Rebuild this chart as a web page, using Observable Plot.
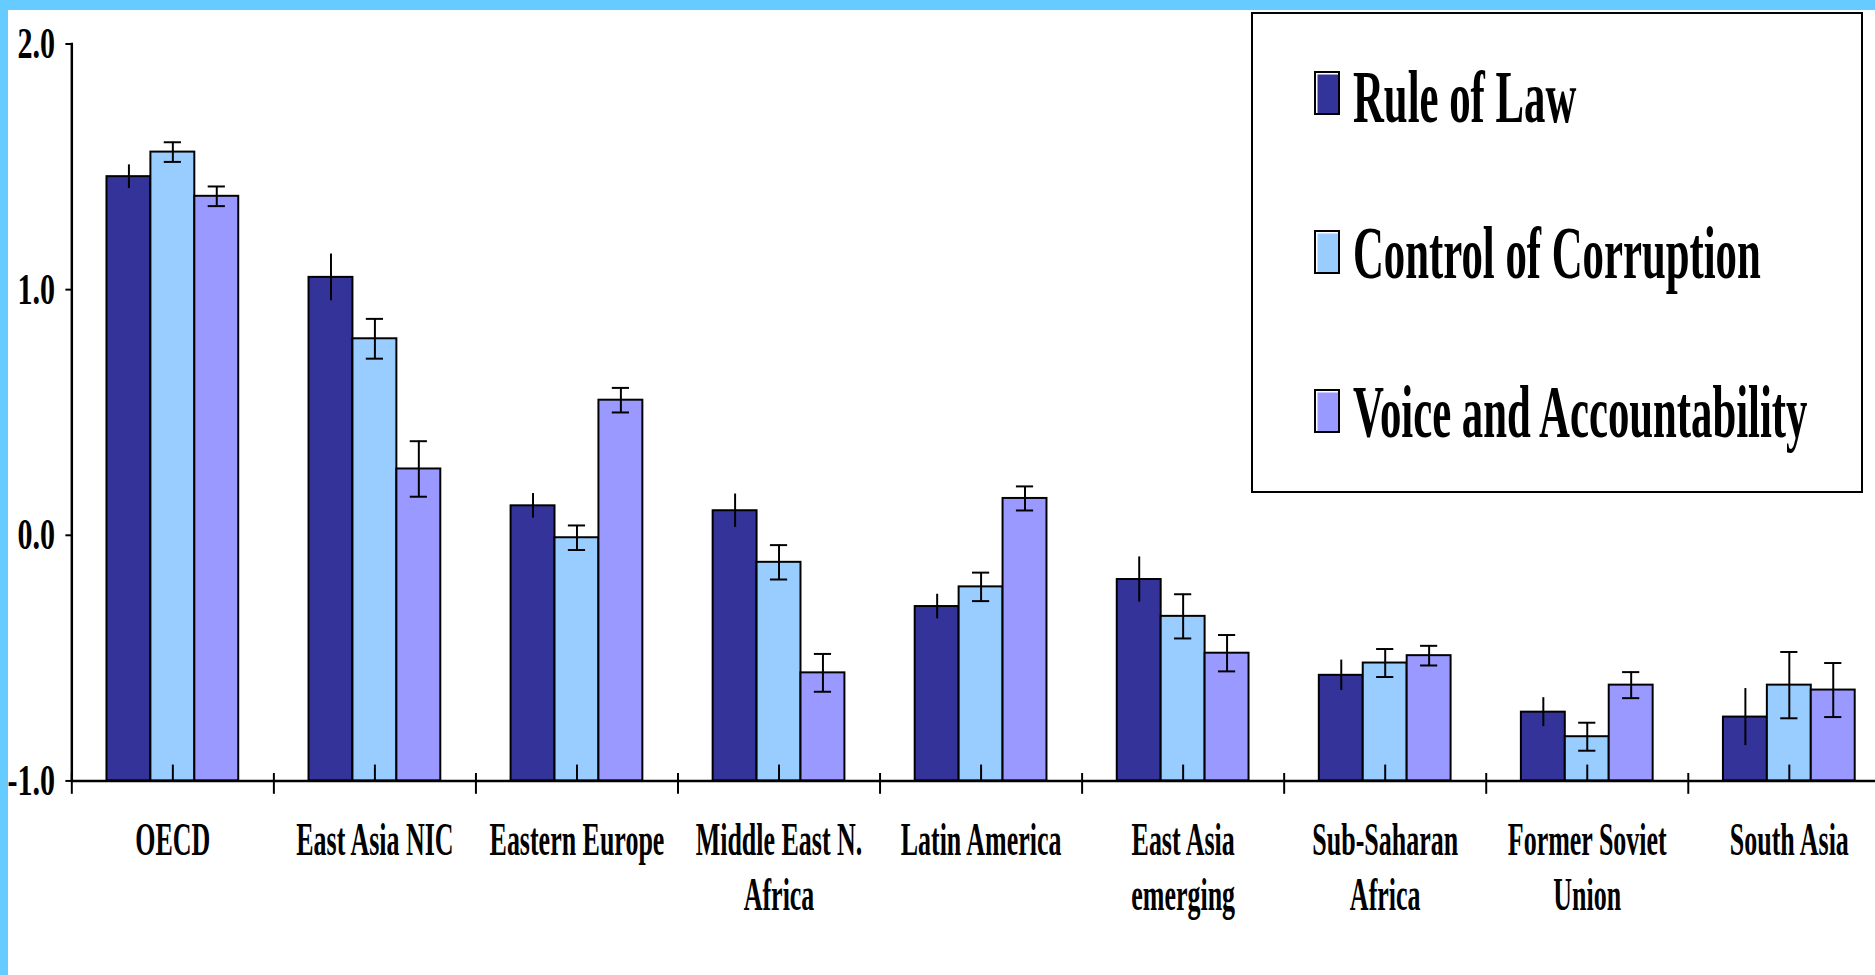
<!DOCTYPE html>
<html>
<head>
<meta charset="utf-8">
<script src="https://cdn.jsdelivr.net/npm/d3@7"></script>
<script src="https://cdn.jsdelivr.net/npm/@observablehq/plot@0.6"></script>
<style>
  html, body { margin: 0; padding: 0; background: #fff; overflow: hidden; width: 1875px; height: 975px; }
  #chart { position: absolute; left: 0; top: 0; }
  .edge-top { position: absolute; left: 0; top: 0; width: 1875px; height: 10px; background: #66ccff; z-index: 5; }
  .edge-left { position: absolute; left: 0; top: 0; width: 8px; height: 975px; background: #66ccff; z-index: 5; }
  #legend { position: absolute; left: 1251px; top: 12px; width: 608px; height: 477px; border: 2px solid #000; background: #fff; z-index: 4; }
  .sw { position: absolute; left: 61px; width: 26px; height: 44px; box-sizing: border-box; border: 2px solid #000; box-shadow: inset 1.5px 1.5px 0 #fff; }
  .lt { position: absolute; left: 100px; font-family: "Liberation Serif", "Times New Roman", serif; font-weight: bold; font-size: 75px; line-height: 1; white-space: nowrap; transform: scaleX(0.57); transform-origin: 0 0; color: #000; }
</style>
</head>
<body>
<div id="chart"></div>
<div class="edge-top"></div>
<div class="edge-left"></div>
<div id="legend"></div>
<script>
// ---- data ----
const categories = ["OECD", "East Asia NIC", "Eastern Europe", "Middle East N. Africa", "Latin America", "East Asia emerging", "Sub-Saharan Africa", "Former Soviet Union", "South Asia"];
const tickLabels = ["OECD", "East Asia NIC", "Eastern Europe", "Middle East N.\nAfrica", "Latin America", "East Asia\nemerging", "Sub-Saharan\nAfrica", "Former Soviet\nUnion", "South Asia"];
const series = ["Rule of Law", "Control of Corruption", "Voice and Accountability"];
const colors = ["#333399", "#99ccff", "#9999ff"];
const ruleOfLaw = [1.46, 1.05, 0.12, 0.10, -0.29, -0.18, -0.57, -0.72, -0.74];
const ruleOfLawErr = [0.048, 0.095, 0.05, 0.068, 0.05, 0.092, 0.062, 0.059, 0.116];
const controlOfCorruption = [1.56, 0.80, -0.01, -0.11, -0.21, -0.33, -0.52, -0.82, -0.61];
const controlOfCorruptionErr = [0.04, 0.081, 0.05, 0.07, 0.058, 0.09, 0.057, 0.057, 0.135];
const voiceAccountability = [1.38, 0.27, 0.55, -0.56, 0.15, -0.48, -0.49, -0.61, -0.63];
const voiceAccountabilityErr = [0.04, 0.113, 0.05, 0.077, 0.049, 0.074, 0.04, 0.053, 0.11];
const yTicks = [-1, 0, 1, 2];
const baseline = -1;

const values = [ruleOfLaw, controlOfCorruption, voiceAccountability];
const errors = [ruleOfLawErr, controlOfCorruptionErr, voiceAccountabilityErr];
const rows = [];
categories.forEach((c, i) => {
  series.forEach((s, j) => {
    const v = values[j][i], e = errors[j][i];
    rows.push({category: c, series: s, value: v, lo: v - e, hi: v + e});
  });
});
const capped = rows.filter(d => d.series !== series[0]);

// target frame: left 71, right 1892, top 44, bottom 781
const W = 1893, H = 975;
const target = {left: 71, right: 1892, top: 44, bottom: 781};
const serif = "'Liberation Serif', 'Times New Roman', serif";

function make(m) {
  const plotH = target.bottom - target.top;
  return Plot.plot({
    width: W, height: H,
    marginTop: m.t, marginBottom: m.b, marginLeft: m.l, marginRight: m.r,
    style: {fontFamily: serif, fontWeight: "bold", color: "#000", background: "transparent", overflow: "visible"},
    fx: {domain: categories, paddingInner: 0, paddingOuter: 0, label: null},
    x: {domain: series, paddingInner: 0, paddingOuter: 0.8, axis: null, round: false},
    y: {domain: [-1, 2], label: null},
    color: {domain: series, range: colors},
    marks: [
      Plot.barY(rows, {fx: "category", x: "series", y1: baseline, y2: "value", fill: "series", stroke: "#000", strokeWidth: 2}),
      Plot.ruleX(rows, {fx: "category", x: "series", y1: "lo", y2: "hi", stroke: "#000", strokeWidth: 2}),
      Plot.tickY(capped, {fx: "category", x: "series", y: "lo", insetLeft: 13.5, insetRight: 13.5, stroke: "#000", strokeWidth: 2}),
      Plot.tickY(capped, {fx: "category", x: "series", y: "hi", insetLeft: 13.5, insetRight: 13.5, stroke: "#000", strokeWidth: 2}),
      Plot.ruleX(categories, {fx: d => d, x: () => series[1], insetTop: plotH - 9, stroke: "#000", strokeWidth: 2}),
      Plot.ruleY([baseline], {stroke: "#000", strokeWidth: 2.5}),
      Plot.frame({anchor: "left", facetAnchor: "left", stroke: "#000", strokeWidth: 2.5, ariaLabel: "yline"}),
      Plot.frame({anchor: "left", insetTop: plotH, insetBottom: -12, stroke: "#000", strokeWidth: 2, ariaLabel: "boundtick"}),
      Plot.axisY({ticks: yTicks, tickFormat: d => d.toFixed(1), tickSize: 6, tickPadding: 11, fontSize: 44, strokeWidth: 2, label: null}),
      Plot.axisFx({anchor: "bottom", tickSize: 0, tickPadding: 36, fontSize: 46, lineHeight: 1.2, label: null,
        tickFormat: d => tickLabels[categories.indexOf(d)]})
    ]
  });
}

const holder = document.getElementById("chart");
let m = {t: 44, b: 194, l: 71, r: 1};
let chart = make(m);
holder.appendChild(chart);
try {
  const yl = chart.querySelector('g[aria-label="yline"] line').getBoundingClientRect();
  const bt = Array.from(chart.querySelectorAll('g[aria-label="boundtick"] line')).map(n => n.getBoundingClientRect());
  const x0 = (yl.left + yl.right) / 2;
  const bx = bt.map(r => (r.left + r.right) / 2).sort((a, b) => a - b);
  const step = bx.length > 1 ? bx[1] - bx[0] : (target.right - target.left) / categories.length;
  const right0 = x0 + categories.length * step;
  const m2 = {
    t: m.t + (target.top - yl.top),
    b: m.b + (yl.bottom - target.bottom),
    l: m.l + (target.left - x0),
    r: m.r + (right0 - target.right)
  };
  if ([m2.t, m2.b, m2.l, m2.r].every(Number.isFinite)) {
    holder.removeChild(chart);
    m = m2;
    chart = make(m);
    holder.appendChild(chart);
  }
} catch (e) { /* keep first render */ }

function condense(selector, s) {
  chart.querySelectorAll(selector).forEach(t => {
    let tr = t.getAttribute("transform");
    if (!tr) {
      const x = t.getAttribute("x") || 0, y = t.getAttribute("y") || 0;
      tr = `translate(${x},${y})`;
      t.removeAttribute("x"); t.removeAttribute("y");
    }
    t.setAttribute("transform", tr + ` scale(${s},1)`);
  });
}
condense('g[aria-label="y-axis tick label"] text', 0.69);
condense('g[aria-label="fx-axis tick label"] text', 0.57);

// ---- legend ----
const legend = document.getElementById("legend");
const swTops = [57, 216, 375];
const txTops = [45, 201, 360];
series.forEach((s, i) => {
  const sw = document.createElement("div");
  sw.className = "sw";
  sw.style.top = swTops[i] + "px";
  sw.style.background = colors[i];
  legend.appendChild(sw);
  const tx = document.createElement("div");
  tx.className = "lt";
  tx.style.top = txTops[i] + "px";
  tx.textContent = s;
  legend.appendChild(tx);
});
</script>
</body>
</html>
